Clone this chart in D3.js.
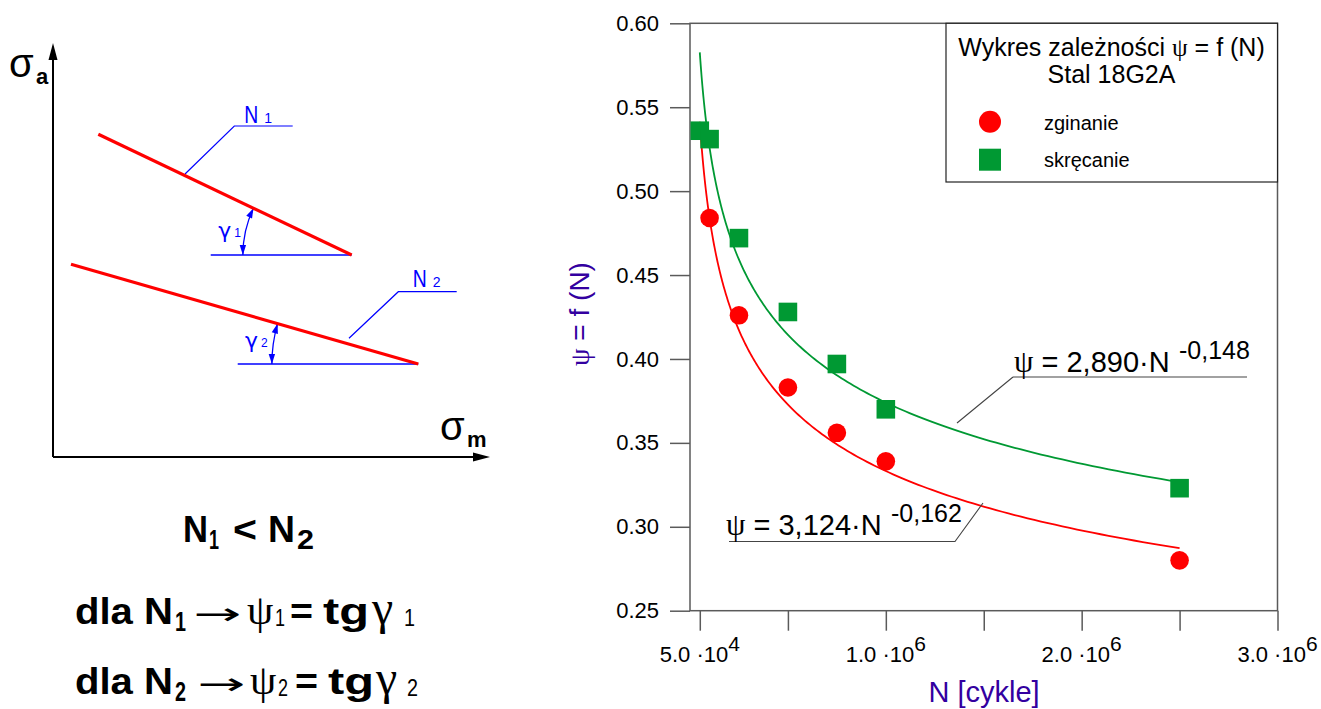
<!DOCTYPE html>
<html>
<head>
<meta charset="utf-8">
<script src="https://cdn.jsdelivr.net/npm/d3@7"></script>
<style>
  body { margin: 0; background: #fff; }
  svg { display: block; font-family: "Liberation Sans", Arial, sans-serif; }
</style>
</head>
<body>
<script>
// measured values (zginanie = bending, skręcanie = torsion)
var cyclesBend = [1e5, 2.5e5, 5e5, 7.5e5, 1e6, 2.5e6];
var psiBend    = [0.484, 0.426, 0.383, 0.356, 0.339, 0.280];
var cyclesTors = [5e4, 1e5, 2.5e5, 5e5, 7.5e5, 1e6, 2.5e6];
var psiTors    = [0.536, 0.531, 0.472, 0.428, 0.397, 0.370, 0.323];

// fitted curves psi = a * N^b, as printed on the chart
var fitCoef  = [3.124, 2.890];
var fitExp   = [-0.162, -0.148];
var fitRange = [5e4, 2.5e6];

var seriesNames = ["zginanie", "skręcanie"];
var eqText = ["3,124·N", "2,890·N"];
var eqPow  = ["-0,162", "-0,148"];

var yTicks = [0.25, 0.30, 0.35, 0.40, 0.45, 0.50, 0.55, 0.60];
var xTicks = [5e4, 5e5, 1e6, 1.5e6, 2e6, 2.5e6, 3e6];
var xLabelVals = [5e4, 1e6, 2e6, 3e6];
var xLabelMant = ["5.0", "1.0", "2.0", "3.0"];
var xLabelPow  = ["4", "6", "6", "6"];

// schematic on the left (abstract units 0..10)
var diagLines = [
  { x1: 1.037, y1: 7.795, x2: 6.835, y2: 4.879 },
  { x1: 0.412, y1: 4.655, x2: 8.359, y2: 2.246 }
];
var diagBaseStart = [3.609, 4.227];
var diagArcR = [2.49, 3.35];
var diagLeaders = [
  [[3.021, 6.836], [4.149, 7.995], [5.485, 7.995]],
  [[6.773, 2.867], [7.902, 3.993], [9.238, 3.993]]
];
var diagNLabel = [[4.378, 8.06], [8.231, 4.114]];
var diagGLabel = [[3.783, 5.29], [4.394, 2.626]];

var width = 1321, height = 709;
var red = "#ff0000", green = "#009933", blue = "#0000ff", purple = "#3300a0";
var greek = "'Liberation Serif', 'DejaVu Serif', serif";

var svg = d3.select("body").append("svg")
  .attr("width", width)
  .attr("height", height);

// ---------- left schematic ----------
var dx = d3.scaleLinear().domain([0, 10]).range([53, 490]);
var dy = d3.scaleLinear().domain([0, 10]).range([457, 43]);
var diag = svg.append("g");

// axes with arrows
diag.append("line").attr("x1", dx(0)).attr("y1", dy(0)).attr("x2", dx(0)).attr("y2", dy(10) + 14)
  .attr("stroke", "#000").attr("stroke-width", 2);
diag.append("line").attr("x1", dx(0)).attr("y1", dy(0)).attr("x2", dx(10) - 14).attr("y2", dy(0))
  .attr("stroke", "#000").attr("stroke-width", 2);
diag.append("path").attr("d", "M" + dx(0) + "," + dy(10) + "l-4.5,17h9z").attr("fill", "#000");
diag.append("path").attr("d", "M" + dx(10) + "," + dy(0) + "l-17,-4.5v9z").attr("fill", "#000");

diag.append("text").attr("x", 9).attr("y", 77).attr("font-size", 40).text("σ");
diag.append("text").attr("x", 36).attr("y", 83.5).attr("font-size", 22).attr("font-weight", "bold").text("a");
diag.append("text").attr("x", 440).attr("y", 440).attr("font-size", 40).text("σ");
diag.append("text").attr("x", 467).attr("y", 447).attr("font-size", 22).attr("font-weight", "bold").text("m");

diagLines.forEach(function(l, i) {
  var x1 = dx(l.x1), y1 = dy(l.y1), x2 = dx(l.x2), y2 = dy(l.y2);
  // base line
  diag.append("line").attr("x1", dx(diagBaseStart[i])).attr("y1", y2).attr("x2", x2).attr("y2", y2)
    .attr("stroke", blue).attr("stroke-width", 1.3);
  // leader for N label
  diag.append("path")
    .attr("d", d3.line().x(function(p) { return dx(p[0]); }).y(function(p) { return dy(p[1]); })(diagLeaders[i]))
    .attr("fill", "none").attr("stroke", blue).attr("stroke-width", 1.2);
  // angle arc with two arrow heads
  var r = dx(diagArcR[i]) - dx(0);
  var th = Math.atan2(y2 - y1, x2 - x1);
  var phiA = Math.PI - th, phiB = Math.PI;
  var pA = [x2 + r * Math.cos(phiA), y2 - r * Math.sin(phiA)];
  var pB = [x2 + r * Math.cos(phiB), y2 - r * Math.sin(phiB)];
  diag.append("path")
    .attr("d", "M" + pA + "A" + r + "," + r + " 0 0,0 " + pB)
    .attr("fill", "none").attr("stroke", blue).attr("stroke-width", 1.3);
  function head(p, phi, sgn) {
    var tx = -Math.sin(phi) * sgn, ty = -Math.cos(phi) * sgn;
    var nx = -ty, ny = tx, L = 10, w = 3.2;
    var bx = p[0] - tx * L, by = p[1] - ty * L;
    diag.append("path")
      .attr("d", "M" + p[0] + "," + p[1] + "L" + (bx + nx * w) + "," + (by + ny * w) + "L" + (bx - nx * w) + "," + (by - ny * w) + "Z")
      .attr("fill", blue);
  }
  head(pB, phiB, 1);
  head(pA, phiA, -1);
  // red characteristic line
  diag.append("line").attr("x1", x1).attr("y1", y1).attr("x2", x2).attr("y2", y2)
    .attr("stroke", red).attr("stroke-width", 3.2);
  // labels
  var nl = diag.append("text").attr("y", dy(diagNLabel[i][1]))
    .attr("fill", blue).attr("font-size", 24);
  nl.append("tspan").attr("x", dx(diagNLabel[i][0])).attr("textLength", 14).attr("lengthAdjust", "spacingAndGlyphs").text("N");
  nl.append("tspan").attr("x", dx(diagNLabel[i][0]) + 20).attr("font-size", 14).text(i + 1);
  var gl = diag.append("text").attr("y", dy(diagGLabel[i][1]))
    .attr("fill", blue).attr("font-size", 25);
  gl.append("tspan").attr("x", dx(diagGLabel[i][0])).attr("font-family", "'DejaVu Sans', sans-serif").attr("font-size", 22).text("γ");
  gl.append("tspan").attr("x", dx(diagGLabel[i][0]) + 16).attr("dy", -1).attr("font-size", 12).text(i + 1);
});

// ---------- formulas under the schematic ----------
var f = svg.append("g").attr("font-weight", "bold").attr("font-size", 37).attr("fill", "#000");
function piece(t, xPos, txt, w, opts) {
  var s = t.append("tspan").attr("x", xPos).text(txt);
  if (w) s.attr("textLength", w).attr("lengthAdjust", "spacingAndGlyphs");
  opts = opts || {};
  if (opts.dy) s.attr("dy", opts.dy);
  if (opts.size) s.attr("font-size", opts.size);
  if (opts.normal) s.attr("font-weight", "normal");
  if (opts.family) s.attr("font-family", opts.family);
  return s;
}
var l1 = f.append("text").attr("y", 542);
piece(l1, 183, "N", 25);
piece(l1, 209, "1", 10, { dy: 7, size: 27 });
piece(l1, 233, "<", 24, { dy: -7 });
piece(l1, 268, "N", 27);
piece(l1, 297, "2", 17, { dy: 7, size: 27 });

[
  { k: 1, yb: 623.5, xs: [75, 175, 193, 247, 275, 290, 323, 372, 404] },
  { k: 2, yb: 693.5, xs: [75, 175, 197, 250, 278, 295, 328, 376, 407] }
].forEach(function(row) {
  var t = f.append("text").attr("y", row.yb), xs = row.xs;
  piece(t, xs[0], "dla N", 98);
  piece(t, xs[1], row.k, 11, { dy: 7, size: 27 });
  piece(t, xs[2], "→", 48, { dy: -7, normal: true, family: "'DejaVu Sans', sans-serif", size: 30 });
  piece(t, xs[3], "ψ", null, { normal: true, family: greek, size: 42 });
  piece(t, xs[4], row.k, 10, { dy: 2, normal: true, size: 24 });
  piece(t, xs[5], "=", 23, { dy: -2 });
  piece(t, xs[6], "tg", 46);
  piece(t, xs[7], "γ", null, { normal: true, family: greek, size: 48 });
  piece(t, xs[8], row.k, 11, { dy: 2, normal: true, size: 24 });
});

// ---------- right chart ----------
var x = d3.scaleLinear().domain([0, 3e6]).range([690, 1277.5]);
var y = d3.scaleLinear().domain([0.25, 0.60]).range([610.7, 23.3]);
var axisColor = "#5a5a5a";

var chart = svg.append("g");

// frame
chart.append("rect")
  .attr("x", x(0)).attr("y", y(0.60))
  .attr("width", x(3e6) - x(0)).attr("height", y(0.25) - y(0.60))
  .attr("fill", "none").attr("stroke", axisColor).attr("stroke-width", 1.5);

var yAxis = chart.append("g").attr("transform", "translate(" + x(0) + ",0)")
  .call(d3.axisLeft(y).tickValues(yTicks).tickFormat(d3.format(".2f")).tickSize(20).tickSizeOuter(0).tickPadding(11));
var xAxis = chart.append("g").attr("transform", "translate(0," + y(0.25) + ")")
  .call(d3.axisBottom(x).tickValues(xTicks).tickFormat("").tickSize(20).tickSizeOuter(0));
[yAxis, xAxis].forEach(function(a) {
  a.select(".domain").remove();
  a.selectAll(".tick line").attr("stroke", axisColor).attr("stroke-width", 1.5);
});
yAxis.selectAll(".tick text").attr("font-size", 22).attr("fill", "#000")
  .attr("font-family", "'Liberation Sans', Arial, sans-serif");

var xl = chart.append("g").selectAll("text").data(xLabelVals).enter().append("text")
  .attr("x", function(d) { return x(d); })
  .attr("y", 662)
  .attr("text-anchor", "middle")
  .attr("font-size", 22);
xl.append("tspan").text(function(d, i) { return xLabelMant[i] + " ·10"; });
xl.append("tspan").attr("dy", -11).attr("font-size", 21).text(function(d, i) { return xLabelPow[i]; });

// axis titles
var yt = chart.append("text")
  .attr("transform", "translate(589,314) rotate(-90)")
  .attr("text-anchor", "middle").attr("font-size", 28).attr("fill", purple);
yt.append("tspan").attr("font-family", greek).text("ψ");
yt.append("tspan").text(" = f (N)");
chart.append("text").attr("x", 984).attr("y", 702).attr("text-anchor", "middle")
  .attr("font-size", 29).attr("fill", purple).text("N [cykle]");

// fitted curves
var nSamples = d3.range(0, 201).map(function(i) {
  return fitRange[0] * Math.pow(fitRange[1] / fitRange[0], i / 200);
});
var curveLine = d3.line().x(function(d) { return x(d[0]); }).y(function(d) { return y(d[1]); });
[red, green].forEach(function(c, s) {
  var pts = nSamples.map(function(n) { return [n, fitCoef[s] * Math.pow(n, fitExp[s])]; });
  chart.append("path").attr("d", curveLine(pts))
    .attr("fill", "none").attr("stroke", c).attr("stroke-width", 1.8);
});

// equation labels with leader lines
var eqPos = [
  { tx: 726, ty: 535, ux1: 729, ux2: 955, uy: 541.5, lx: 983, ly: 503, ex: 891 },
  { tx: 1014, ty: 371.5, ux1: 1013, ux2: 1247, uy: 377, lx: 957, ly: 423, ex: 1179 }
];
eqPos.forEach(function(p, s) {
  chart.append("path")
    .attr("d", "M" + p.ux1 + "," + p.uy + "H" + p.ux2 + (s === 0 ? "L" + p.lx + "," + p.ly : "") +
      (s === 1 ? "M" + p.ux1 + "," + p.uy + "L" + p.lx + "," + p.ly : ""))
    .attr("fill", "none").attr("stroke", "#444").attr("stroke-width", 1.1);
  var t = chart.append("text").attr("y", p.ty).attr("font-size", 29).attr("fill", "#000");
  t.append("tspan").attr("x", p.tx).attr("font-family", greek).attr("font-size", 31).text("ψ");
  t.append("tspan").text(" = " + eqText[s]);
  t.append("tspan").attr("x", p.ex).attr("dy", -13).attr("font-size", 25).text(eqPow[s]);
});

// measured points
chart.append("g").selectAll("circle").data(cyclesBend).enter().append("circle")
  .attr("cx", function(d) { return x(d); })
  .attr("cy", function(d, i) { return y(psiBend[i]); })
  .attr("r", 9.3).attr("fill", red);
chart.append("g").selectAll("rect").data(cyclesTors).enter().append("rect")
  .attr("x", function(d) { return x(d) - 9.3; })
  .attr("y", function(d, i) { return y(psiTors[i]) - 9.3; })
  .attr("width", 18.6).attr("height", 18.6).attr("fill", green);

// legend
var lg = chart.append("g");
lg.append("rect").attr("x", 946).attr("y", y(0.60)).attr("width", x(3e6) - 946).attr("height", 182 - y(0.60))
  .attr("fill", "#fff").attr("stroke", "#222").attr("stroke-width", 1.2);
var lt = lg.append("text").attr("x", 1111.5).attr("y", 56).attr("text-anchor", "middle").attr("font-size", 25);
lt.append("tspan").text("Wykres zależności ");
lt.append("tspan").attr("font-family", greek).text("ψ");
lt.append("tspan").text(" = f (N)");
lg.append("text").attr("x", 1111.5).attr("y", 83).attr("text-anchor", "middle").attr("font-size", 25).text("Stal 18G2A");
lg.append("circle").attr("cx", 990).attr("cy", 121.7).attr("r", 11).attr("fill", red);
lg.append("rect").attr("x", 979).attr("y", 148.7).attr("width", 22).attr("height", 22).attr("fill", green);
lg.selectAll(".ln").data(seriesNames).enter().append("text")
  .attr("x", 1044).attr("y", function(d, i) { return i === 0 ? 130 : 167; })
  .attr("font-size", 20).text(function(d) { return d; });
</script>
</body>
</html>
